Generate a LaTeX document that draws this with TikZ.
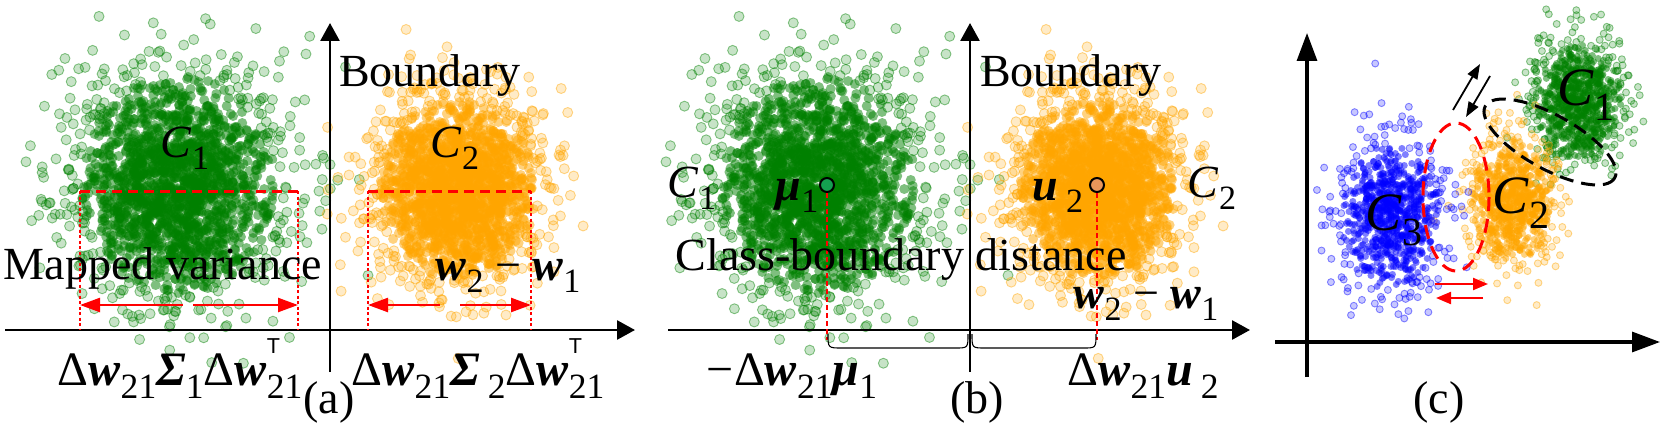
\documentclass[tikz,border=0pt]{standalone}
\usepackage{fontspec}
\setmainfont{Liberation Serif}
\newfontfamily\sansT{Liberation Sans}
\usepackage{graphicx}
\usetikzlibrary{arrows.meta}

\definecolor{cgreen}{RGB}{0,128,0}
\definecolor{corange}{RGB}{255,165,0}
\definecolor{cblue}{RGB}{0,0,255}
\definecolor{cred}{RGB}{255,0,0}
\definecolor{mugreen}{RGB}{20,160,80}
\definecolor{muorange}{RGB}{232,150,90}

\newcommand{\bw}{\textbf{\textit{w}}}
\newcommand{\bmu}{\textbf{\textit{μ}}}
\newcommand{\bu}{\textbf{\textit{u}}}
\newcommand{\bS}{\textbf{\textit{Σ}}}
\newcommand{\sbx}[1]{\raisebox{-0.28em}{\scalebox{0.74}{#1}}}
\newcommand{\spsb}[2]{\makebox[0pt][l]{\raisebox{0.66em}{\scalebox{0.45}{\sansT #1}}}\sbx{#2}}

% seed, n, cx, cy, sx, sy, colour, radius (pt, number), core opacity
\newcommand{\cluster}[9]{%
  \pgfmathsetseed{#1}%
  \pgfmathsetmacro\dotw{2*#8}%
  \foreach \k in {1,...,#2}{%
    \pgfmathsetmacro\crad{sqrt(-2*ln(0.0001+0.9998*rnd))}%
    \pgfmathsetmacro\cang{360*rnd}%
    \pgfmathsetmacro\px{#3+#5*\crad*cos(\cang)}%
    \pgfmathsetmacro\py{#4+#6*\crad*sin(\cang)}%
    \pgfmathtruncatemacro\far{\crad>1.95}%
    \ifnum\far=1
      \path[fill=#7, fill opacity=0.22, draw=#7, draw opacity=0.45, line width=0.9pt] (\px,\py) circle[radius=#8pt];%
    \else
      \draw[#7, draw opacity=#9, line width=\dotw pt, line cap=round] (\px,\py) -- ++(0.01,0);%
    \fi
  }}

\begin{document}
\begin{tikzpicture}[x=1pt,y=-1pt,
  lbl/.style={inner sep=0pt, font=\fontsize{46}{50}\selectfont, anchor=base},
  blbl/.style={inner sep=0pt, font=\fontsize{48}{52}\selectfont, anchor=base},
  clbl/.style={inner sep=0pt, font=\fontsize{54}{58}\selectfont, anchor=base},
  axis/.style={line width=2.7pt, -{Triangle[length=18pt,width=19pt]}},
  caxis/.style={line width=3.2pt, -{Triangle[length=28pt,width=20pt]}},
  redarr/.style={cred, line width=2.4pt, -{Triangle[length=20pt,width=14pt]}},
  reddash/.style={cred, line width=3pt, dash pattern=on 10pt off 6pt},
  reddot/.style={cred, line width=2.6pt, dash pattern=on 3pt off 2.5pt},
  reddash2/.style={cred, line width=2.4pt, dash pattern=on 5pt off 3pt},
  brace/.style={black, line width=1.1pt},
  mumark/.style={circle, draw=black, line width=2pt, minimum size=14pt, inner sep=0pt},
  ell/.style={line width=3pt, dash pattern=on 14pt off 8pt},
  karr/.style={black, line width=1.8pt, -{Triangle[length=15pt,width=11pt]}},
  rarr/.style={cred, line width=2.2pt, -{Triangle[length=15pt,width=12pt]}}
]
\useasboundingbox (0,0) rectangle (1662,428);

% ---------------- clusters (a) ----------------
\cluster{11}{2000}{178}{185}{50}{56}{cgreen}{5}{0.5}
\cluster{23}{2000}{458}{190}{40}{46}{corange}{5}{0.5}
% ---------------- clusters (b) ----------------
\cluster{11}{2000}{818}{185}{50}{56}{cgreen}{5}{0.5}
\cluster{23}{2000}{1098}{190}{40}{46}{corange}{5}{0.5}
% ---------------- clusters (c) ----------------
\cluster{31}{900}{1578}{102}{22}{30}{cgreen}{3.5}{0.5}
\cluster{37}{900}{1513}{200}{21}{31}{corange}{3.5}{0.5}
\cluster{41}{900}{1390}{217}{25}{37}{cblue}{3.5}{0.5}

% ---------------- panel (a) ----------------
\coordinate (aYb) at (330,372); \coordinate (aYt) at (330,23);
\coordinate (aXl) at (5,330);   \coordinate (aXr) at (635,330);
\draw[axis] (aYb) -- (aYt);
\draw[axis] (aXl) -- (aXr);

\coordinate (aL1) at (80,191);  \coordinate (aL2) at (298,191);
\coordinate (aL1b) at (80,330); \coordinate (aL2b) at (298,330);
\draw[reddash] (aL1) -- (aL2);
\draw[reddot] (aL1) -- (aL1b);
\draw[reddot] (aL2) -- (aL2b);
\coordinate (aLg1) at (183,305); \coordinate (aLg2) at (193,305);
\coordinate (aLe1) at (80,305);  \coordinate (aLe2) at (298,305);
\draw[redarr] (aLg1) -- (aLe1);
\draw[redarr] (aLg2) -- (aLe2);

\coordinate (aR1) at (368,191);  \coordinate (aR2) at (531,191);
\coordinate (aR1b) at (368,330); \coordinate (aR2b) at (531,330);
\draw[reddash] (aR1) -- (aR2);
\draw[reddot] (aR1) -- (aR1b);
\draw[reddot] (aR2) -- (aR2b);
\coordinate (aRg1) at (440,305); \coordinate (aRg2) at (460,305);
\coordinate (aRe1) at (368,305); \coordinate (aRe2) at (531,305);
\draw[redarr] (aRg1) -- (aRe1);
\draw[redarr] (aRg2) -- (aRe2);

\node[lbl] (aC1) at (185,157) {\textit{C}\sbx{1}};
\node[lbl] (aC2) at (455,157) {\textit{C}\sbx{2}};
\node[lbl] (aBd) at (430,86) {Boundary};
\node[lbl] (aMv) at (163,279) {Mapped variance};
\node[lbl] (aW) at (508,280) {\bw\sbx{2} − \bw\sbx{1}};
\node[blbl] (aS1) at (180,385) {Δ\bw\sbx{21}\bS\sbx{1}Δ\bw\spsb{T}{21}};
\node[blbl] (aS2) at (478,385) {Δ\bw\sbx{21}\bS\,\sbx{2}Δ\bw\spsb{T}{21}};
\node[lbl] (aTag) at (329,413) {(a)};

% ---------------- panel (b) ----------------
\coordinate (bYb) at (970,372); \coordinate (bYt) at (970,23);
\coordinate (bXl) at (668,330); \coordinate (bXr) at (1250,330);
\draw[axis] (bYb) -- (bYt);
\draw[axis] (bXl) -- (bXr);

\coordinate (bm1b) at (827,340);
\coordinate (bm2b) at (1097,340);
\node[mumark, fill=mugreen] (bm1) at (827,185) {};
\node[mumark, fill=muorange] (bm2) at (1097,185) {};
\draw[reddash2] (bm1.south) -- (bm1b);
\draw[reddash2] (bm2.south) -- (bm2b);

\coordinate (bb0) at (828,334);
\coordinate (bb1) at (968,334);
\coordinate (bb2) at (972,334);
\coordinate (bb3) at (1096,334);
\draw[brace] (bb0) .. controls (828,348) .. (842,348) -- (955,348) .. controls (968,348) .. (bb1);
\draw[brace] (bb2) .. controls (972,348) .. (985,348) -- (1083,348) .. controls (1096,348) .. (bb3);

\node[lbl] (bC1) at (692,197) {\textit{C}\sbx{1}};
\node[lbl] (bC2) at (1212,197) {\textit{C}\sbx{2}};
\node[lbl] (bMu1) at (797,200) {\bmu\sbx{1}};
\node[lbl] (bU2) at (1058,200) {\bu\,\sbx{2}};
\node[lbl] (bBd) at (1071,86) {Boundary};
\node[lbl] (bCb) at (901,270) {Class-boundary distance};
\node[lbl] (bW) at (1146,308) {\bw\sbx{2} − \bw\sbx{1}};
\node[blbl] (bD1) at (792,385) {−Δ\bw\sbx{21}\bmu\sbx{1}};
\node[blbl] (bD2) at (1143,385) {Δ\bw\sbx{21}\bu\,\sbx{2}};
\node[lbl] (bTag) at (977,413) {(b)};

% ---------------- panel (c) ----------------
\coordinate (cYb) at (1307,377); \coordinate (cYt) at (1307,33);
\coordinate (cXl) at (1275,342); \coordinate (cXr) at (1660,342);
\draw[caxis] (cYb) -- (cYt);
\draw[caxis] (cXl) -- (cXr);

\coordinate (cRe) at (1456,197);
\draw[ell, cred] (cRe) ellipse[x radius=33, y radius=74];
\coordinate (cKe) at (1550,142);
\draw[ell, black, rotate around={-29:(cKe)}] (cKe) ellipse[x radius=74, y radius=27];

\coordinate (cA1s) at (1453,110); \coordinate (cA1e) at (1480,64);
\coordinate (cA2s) at (1490,76);  \coordinate (cA2e) at (1466,117);
\draw[karr] (cA1s) -- (cA1e);
\draw[karr] (cA2s) -- (cA2e);

\coordinate (cB1s) at (1435,284); \coordinate (cB1e) at (1488,284);
\coordinate (cB2s) at (1483,298); \coordinate (cB2e) at (1436,298);
\draw[rarr] (cB1s) -- (cB1e);
\draw[rarr] (cB2s) -- (cB2e);

\node[clbl] (cC3) at (1394,230) {\textit{C}\sbx{3}};
\node[clbl] (cC2) at (1521,213) {\textit{C}\sbx{2}};
\node[clbl] (cC1) at (1586,105) {\textit{C}\sbx{1}};
\node[lbl] (cTag) at (1439,413) {(c)};
\end{tikzpicture}
\end{document}
